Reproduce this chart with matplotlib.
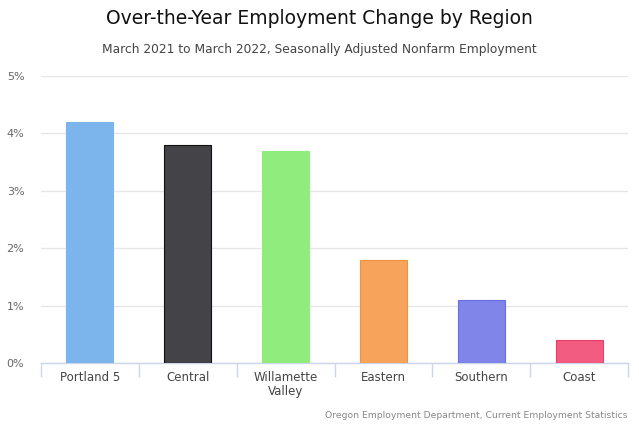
import matplotlib
matplotlib.use("Agg")
import matplotlib.pyplot as plt
import numpy as np

regions = ["Portland 5", "Central", "Willamette\nValley", "Eastern", "Southern", "Coast"]
change = [4.2, 3.8, 3.7, 1.8, 1.1, 0.4]
colors = ["#7cb5ec", "#434348", "#90ed7d", "#f7a35c", "#8085e9", "#f15c80"]
edges = ["#7cb5ec", "#111111", "#90ed7d", "#f0933f", "#6a6fe0", "#e83d6a"]
yticks = [0, 1, 2, 3, 4, 5]

fig = plt.figure(figsize=(6.39, 4.26), dpi=100)
ax = fig.add_axes([41 / 639, 63 / 426, 587 / 639, 287 / 426])

x = np.arange(len(regions))
ax.bar(x, change, width=0.48, color=colors, edgecolor=edges, linewidth=0.8, zorder=3)

ax.set_xlim(-0.5, len(regions) - 0.5)
ax.set_ylim(0, 5)
ax.set_yticks(yticks)
ax.set_yticklabels([f"{v}%" for v in yticks], color="#666666", fontsize=8)
ax.yaxis.grid(True, color="#e6e6e6", linewidth=1, zorder=0)
ax.tick_params(axis="y", length=0, pad=12)

ax.set_xticks(x)
ax.set_xticklabels(regions, color="#444444", fontsize=8.5, linespacing=1.1)
ax.tick_params(axis="x", length=0, pad=6)
ax.set_xticks(np.arange(-0.5, len(regions)), minor=True)
ax.tick_params(axis="x", which="minor", length=10, color="#ccd6eb", width=1)

for s in ["top", "right", "left"]:
    ax.spines[s].set_visible(False)
ax.spines["bottom"].set_color("#ccd6eb")
ax.spines["bottom"].set_linewidth(1)

fig.text(0.5, 1 - 19 / 426, "Over-the-Year Employment Change by Region",
         ha="center", va="center", fontsize=13.5, color="#111111")
fig.text(0.5, 1 - 49 / 426, "March 2021 to March 2022, Seasonally Adjusted Nonfarm Employment",
         ha="center", va="center", fontsize=8.8, color="#444444")
fig.text(628 / 639, 1 - 416 / 426, "Oregon Employment Department, Current Employment Statistics",
         ha="right", va="center", fontsize=6.7, color="#888888")

fig.savefig("out.png", dpi=100)
